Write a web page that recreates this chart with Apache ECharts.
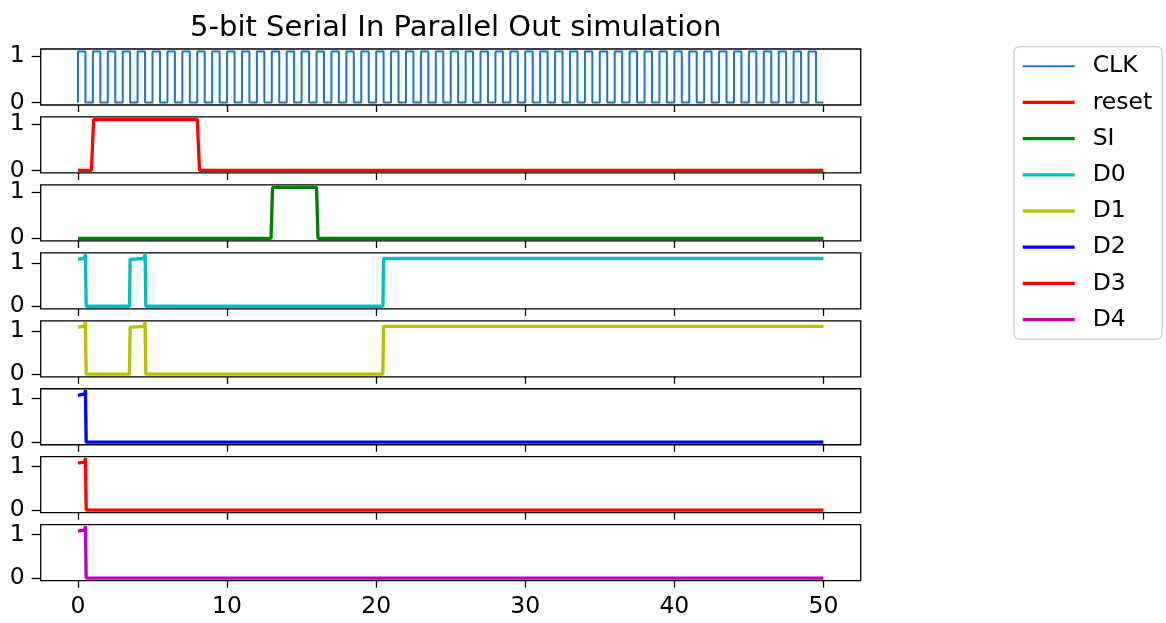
<!DOCTYPE html>
<html>
<head>
<meta charset="utf-8">
<script src="https://cdn.jsdelivr.net/npm/echarts@6/dist/echarts.min.js"></script>
<style>
  html, body { margin: 0; padding: 0; background: #fff; }
  #chart { width: 1166px; height: 623px; }
</style>
</head>
<body>
<div id="chart"></div>
<script>
const titleText = '5-bit Serial In Parallel Out simulation'
const xTicks = [0, 10, 20, 30, 40, 50]
const yTicks = [0, 1]
const signalNames = ['CLK', 'reset', 'SI', 'D0', 'D1', 'D2', 'D3', 'D4']
const signalColors = ['#1f77b4', '#ff0000', '#008000', '#00bfbf', '#bfbf00', '#0000ff', '#ff0000', '#bf00bf']

// clock: one sample per half period
const clkTime = [
  0, 0, 0.5, 1, 1.5, 2, 2.5, 3, 3.5, 4, 4.5,
  5, 5.5, 6, 6.5, 7, 7.5, 8, 8.5, 9, 9.5,
  10, 10.5, 11, 11.5, 12, 12.5, 13, 13.5, 14, 14.5,
  15, 15.5, 16, 16.5, 17, 17.5, 18, 18.5, 19, 19.5,
  20, 20.5, 21, 21.5, 22, 22.5, 23, 23.5, 24, 24.5,
  25, 25.5, 26, 26.5, 27, 27.5, 28, 28.5, 29, 29.5,
  30, 30.5, 31, 31.5, 32, 32.5, 33, 33.5, 34, 34.5,
  35, 35.5, 36, 36.5, 37, 37.5, 38, 38.5, 39, 39.5,
  40, 40.5, 41, 41.5, 42, 42.5, 43, 43.5, 44, 44.5,
  45, 45.5, 46, 46.5, 47, 47.5, 48, 48.5, 49, 49.5,
  50
]
const clkLevel = [
  0, 1.1, 0, 1.1, 0, 1.1, 0, 1.1, 0, 1.1, 0,
  1.1, 0, 1.1, 0, 1.1, 0, 1.1, 0, 1.1, 0,
  1.1, 0, 1.1, 0, 1.1, 0, 1.1, 0, 1.1, 0,
  1.1, 0, 1.1, 0, 1.1, 0, 1.1, 0, 1.1, 0,
  1.1, 0, 1.1, 0, 1.1, 0, 1.1, 0, 1.1, 0,
  1.1, 0, 1.1, 0, 1.1, 0, 1.1, 0, 1.1, 0,
  1.1, 0, 1.1, 0, 1.1, 0, 1.1, 0, 1.1, 0,
  1.1, 0, 1.1, 0, 1.1, 0, 1.1, 0, 1.1, 0,
  1.1, 0, 1.1, 0, 1.1, 0, 1.1, 0, 1.1, 0,
  1.1, 0, 1.1, 0, 1.1, 0, 1.1, 0, 1.1, 0,
  0
]

const resetTime = [0, 0.9, 1.05, 8.0, 8.15, 50]
const resetLevel = [0, 0, 1.1, 1.1, 0, 0]

const siTime = [0, 12.95, 13.05, 16.0, 16.1, 50]
const siLevel = [0, 0, 1.1, 1.1, 0, 0]

const d0Time = [0, 0.3, 0.45, 0.5, 0.55, 3.45, 3.5, 4.4, 4.5, 4.55, 20.45, 20.5, 50]
const d0Level = [1.08, 1.1, 1.1, 1.2, 0, 0, 1.08, 1.1, 1.2, 0, 0, 1.1, 1.1]

const d1Time = [0, 0.3, 0.45, 0.5, 0.55, 3.45, 3.5, 4.4, 4.5, 4.55, 20.45, 20.5, 50]
const d1Level = [1.08, 1.1, 1.1, 1.2, 0, 0, 1.08, 1.1, 1.2, 0, 0, 1.1, 1.1]

const d2Time = [0, 0.3, 0.45, 0.5, 0.55, 50]
const d2Level = [1.08, 1.1, 1.1, 1.2, 0, 0]

const d3Time = [0, 0.3, 0.45, 0.5, 0.55, 50]
const d3Level = [1.08, 1.1, 1.1, 1.2, 0, 0]

const d4Time = [0, 0.3, 0.45, 0.5, 0.55, 50]
const d4Level = [1.08, 1.1, 1.1, 1.2, 0, 0]

const signalTimes = [clkTime, resetTime, siTime, d0Time, d1Time, d2Time, d3Time, d4Time]
const signalLevels = [clkLevel, resetLevel, siLevel, d0Level, d1Level, d2Level, d3Level, d4Level]

const FONT = 'DejaVu Sans'
const LAYOUT = {
  left: 40.7,
  width: 820,
  top: 49,
  step: 67.95,
  height: 56
}

const chart = echarts.init(document.getElementById('chart'))

const panelCount = signalNames.length
const grids = []
const xAxes = []
const yAxes = []
const series = []

for (let i = 0; i < panelCount; i++) {
  const isLast = i === panelCount - 1
  const isDigital = i >= 3
  const lineWidth = i === 0 ? 2 : 3.3

  grids.push({
    left: LAYOUT.left,
    top: LAYOUT.top + i * LAYOUT.step,
    width: LAYOUT.width,
    height: LAYOUT.height,
    show: true,
    borderColor: '#000',
    borderWidth: 1.3,
    backgroundColor: 'transparent'
  })

  xAxes.push({
    type: 'value',
    gridIndex: i,
    min: -2.5,
    max: 52.5,
    splitLine: { show: false },
    axisLine: { show: false, onZero: false },
    axisTick: {
      show: true,
      inside: false,
      length: 7,
      customValues: xTicks,
      lineStyle: { color: '#000', width: 1.3 }
    },
    axisLabel: {
      show: isLast,
      customValues: xTicks,
      margin: 14,
      color: '#000',
      fontFamily: FONT,
      fontSize: 23.5
    }
  })

  yAxes.push({
    type: 'value',
    gridIndex: i,
    min: isDigital ? -0.06 : -0.055,
    max: isDigital ? 1.23 : 1.155,
    splitLine: { show: false },
    axisLine: { show: false, onZero: false },
    axisTick: {
      show: true,
      inside: false,
      length: 9,
      customValues: yTicks,
      lineStyle: { color: '#000', width: 1.3 }
    },
    axisLabel: {
      customValues: yTicks,
      margin: 16,
      color: '#000',
      fontFamily: FONT,
      fontSize: 23.5
    }
  })

  series.push({
    name: signalNames[i],
    type: 'line',
    xAxisIndex: i,
    yAxisIndex: i,
    step: i === 0 ? 'end' : false,
    symbol: 'none',
    animation: false,
    color: signalColors[i],
    lineStyle: { color: signalColors[i], width: lineWidth },
    data: signalTimes[i].map((t, k) => [t, signalLevels[i][k]])
  })
}

const legendData = signalNames.map((name, i) => {
  const h = i === 0 ? 2 : 3.3
  return {
    name,
    icon: `path://M0,0H52V${h}H0Z`,
    itemStyle: { color: signalColors[i] }
  }
})

chart.setOption({
  animation: false,
  title: {
    text: titleText,
    left: LAYOUT.left + LAYOUT.width / 2,
    textAlign: 'center',
    top: 9,
    textStyle: {
      fontFamily: FONT,
      fontWeight: 'normal',
      fontSize: 29,
      color: '#000'
    }
  },
  legend: {
    orient: 'vertical',
    left: 1014,
    top: 46.7,
    padding: [7.5, 10, 7.5, 8.7],
    itemWidth: 52,
    itemHeight: 14,
    itemGap: 12.2,
    borderColor: '#cccccc',
    borderWidth: 1.3,
    borderRadius: 5,
    backgroundColor: '#fff',
    data: legendData,
    textStyle: {
      fontFamily: FONT,
      fontSize: 23.5,
      lineHeight: 24,
      color: '#000',
      padding: [0, 0, 0, 13]
    }
  },
  grid: grids,
  xAxis: xAxes,
  yAxis: yAxes,
  series: series
})
</script>
</body>
</html>
